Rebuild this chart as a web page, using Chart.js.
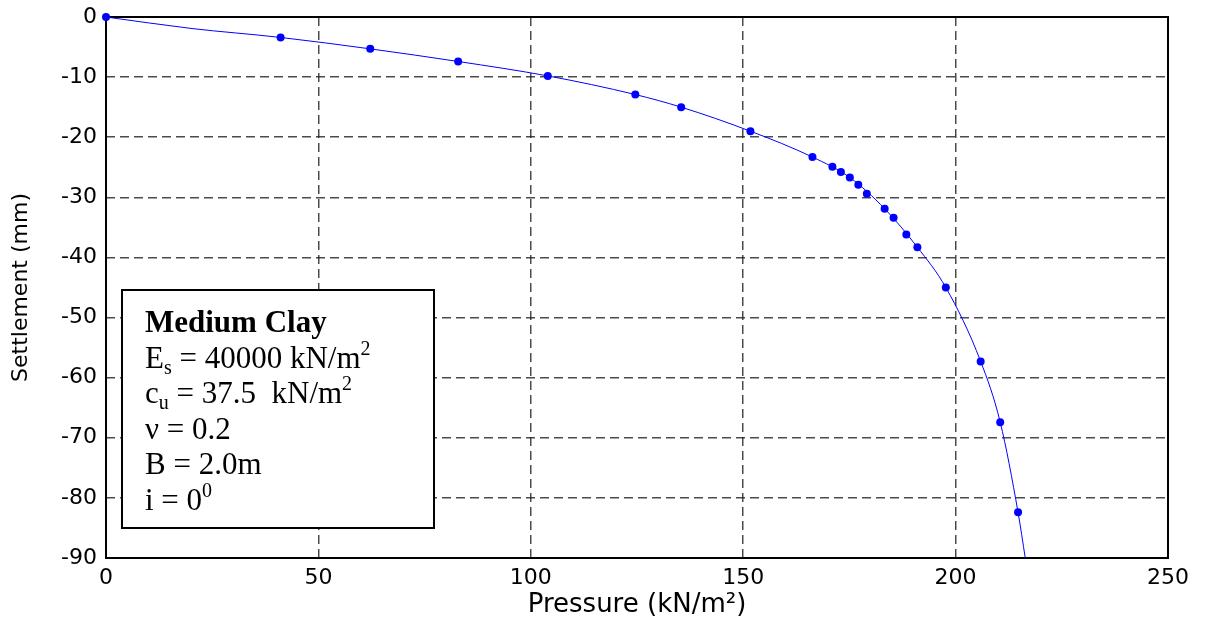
<!DOCTYPE html>
<html>
<head>
<meta charset="utf-8">
<script src="https://cdn.jsdelivr.net/npm/chart.js@4/dist/chart.umd.min.js"></script>
<style>
  html, body { margin: 0; padding: 0; background: #fff; }
  #wrap { width: 1210px; height: 633px; position: relative; }
</style>
</head>
<body>
<div id="wrap"><canvas id="c" width="1210" height="633"></canvas></div>
<script>
// Measured points (markers)
const pressure = [0, 41.1, 62.2, 82.9, 104.0, 124.6, 135.4, 151.7, 166.3, 171.0, 173.0, 175.1, 177.1, 179.1, 183.3, 185.4, 188.4, 191.0, 197.7, 205.9, 210.5, 214.7];
const settlement = [0, -3.4, -5.3, -7.4, -9.8, -12.9, -15.0, -19.0, -23.3, -24.9, -25.8, -26.7, -27.9, -29.4, -31.9, -33.4, -36.2, -38.3, -45.0, -57.3, -67.4, -82.4];
// Fitted curve
const curvePressure = [0, 20, 41.1, 62.2, 82.9, 104.0, 124.6, 135.4, 151.7, 166.3, 175.1, 183.3, 191.0, 197.7, 205.9, 210.5, 214.7, 216.4];
const curveSettlement = [0, -1.9, -3.4, -5.3, -7.4, -9.8, -12.9, -15.0, -19.0, -23.3, -26.7, -31.9, -38.3, -45.0, -57.3, -67.4, -82.4, -90];
// Axis ticks
const xTicks = [0, 50, 100, 150, 200, 250];
const yTicks = [0, -10, -20, -30, -40, -50, -60, -70, -80, -90];
// Info box text
const boxTitle = "Medium Clay";
const boxLines = [
  [["E", 0], ["s", 1], [" = 40000 kN/m", 0], ["2", 2]],
  [["c", 0], ["u", 1], [" = 37.5  kN/m", 0], ["2", 2]],
  [["\u03bd = 0.2", 0]],
  [["B = 2.0m", 0]],
  [["i = 0", 0], ["0", 2]]
];

const toXY = (xs, ys) => xs.map((x, i) => ({ x: x, y: ys[i] }));

const framePlugin = {
  id: 'frame',
  beforeDatasetsDraw(chart) {
    const { ctx, chartArea: a } = chart;
    ctx.save();
    ctx.strokeStyle = '#000';
    ctx.lineWidth = 2;
    ctx.strokeRect(a.left, a.top, a.right - a.left, a.bottom - a.top);
    ctx.restore();
  },
  afterDatasetsDraw(chart) {
    const { ctx, chartArea: a } = chart;
    const bx = a.left + 16, by = a.top + 273, bw = 312, bh = 238;
    ctx.save();
    ctx.fillStyle = '#fff';
    ctx.fillRect(bx, by, bw, bh);
    ctx.strokeStyle = '#000';
    ctx.lineWidth = 2;
    ctx.strokeRect(bx, by, bw, bh);
    ctx.fillStyle = '#000';
    ctx.textBaseline = 'alphabetic';
    ctx.textAlign = 'left';
    const tx = bx + 23;
    let base = by + 42;
    ctx.font = 'bold 31px "Liberation Serif", "Times New Roman", serif';
    ctx.fillText(boxTitle, tx, base);
    boxLines.forEach(parts => {
      base += 35.6;
      let x = tx;
      parts.forEach(([t, kind]) => {
        let size = 31, dy = 0;
        if (kind === 1) { size = 20; dy = 6; }
        if (kind === 2) { size = 20; dy = -13; }
        ctx.font = size + 'px "Liberation Serif", "Times New Roman", serif';
        ctx.fillText(t, x, base + dy);
        x += ctx.measureText(t).width;
      });
    });
    ctx.restore();
  }
};

const gridCol = 'rgba(30,30,30,0.8)';

new Chart(document.getElementById('c'), {
  type: 'scatter',
  data: {
    datasets: [
      {
        data: toXY(curvePressure, curveSettlement),
        showLine: true,
        borderColor: '#0000ff',
        borderWidth: 1,
        pointRadius: 0,
        cubicInterpolationMode: 'monotone',
        fill: false,
        clip: false
      },
      {
        data: toXY(pressure, settlement),
        showLine: false,
        pointRadius: 4,
        pointBackgroundColor: '#0000ff',
        pointBorderColor: '#0000ff',
        pointBorderWidth: 0,
        clip: false
      }
    ]
  },
  options: {
    responsive: false,
    animation: false,
    events: [],
    layout: { padding: { top: 17, right: 42, left: 0, bottom: 0 } },
    plugins: { legend: { display: false }, tooltip: { enabled: false } },
    scales: {
      x: {
        type: 'linear',
        min: 0, max: 250,
        afterBuildTicks: s => { s.ticks = xTicks.map(v => ({ value: v })); },
        afterFit: s => { s.height = 75; s.paddingLeft = 0; s.paddingRight = 0; },
        grid: {
          color: c => (c.tick && (c.tick.value === 0 || c.tick.value === 250)) ? 'rgba(0,0,0,0)' : gridCol,
          lineWidth: 1.5,
          drawTicks: false,
          tickLength: 0
        },
        border: { display: false, dash: [9, 5] },
        ticks: {
          padding: 7,
          color: '#000',
          font: { family: '"DejaVu Sans", Arial, sans-serif', size: 22 },
          callback: v => String(v),
          maxRotation: 0
        },
        title: {
          display: true,
          text: 'Pressure (kN/m\u00b2)',
          color: '#000',
          font: { family: '"DejaVu Sans", Arial, sans-serif', size: 26 },
          padding: { top: 0, bottom: 12 }
        }
      },
      y: {
        type: 'linear',
        min: -90, max: 0,
        afterBuildTicks: s => { s.ticks = yTicks.map(v => ({ value: v })); },
        afterFit: s => { s.width = 106; s.paddingTop = 0; s.paddingBottom = 0; },
        grid: {
          color: c => (c.tick && (c.tick.value === 0 || c.tick.value === -90)) ? 'rgba(0,0,0,0)' : gridCol,
          lineWidth: 1.5,
          drawTicks: false,
          tickLength: 0
        },
        border: { display: false, dash: [9, 5] },
        ticks: {
          padding: 9,
          color: '#000',
          font: { family: '"DejaVu Sans", Arial, sans-serif', size: 22 },
          callback: v => String(v)
        },
        title: {
          display: true,
          text: 'Settlement (mm)',
          color: '#000',
          font: { family: '"DejaVu Sans", Arial, sans-serif', size: 22 },
          padding: { top: 8, bottom: 0 }
        }
      }
    }
  },
  plugins: [framePlugin]
});
</script>
</body>
</html>
